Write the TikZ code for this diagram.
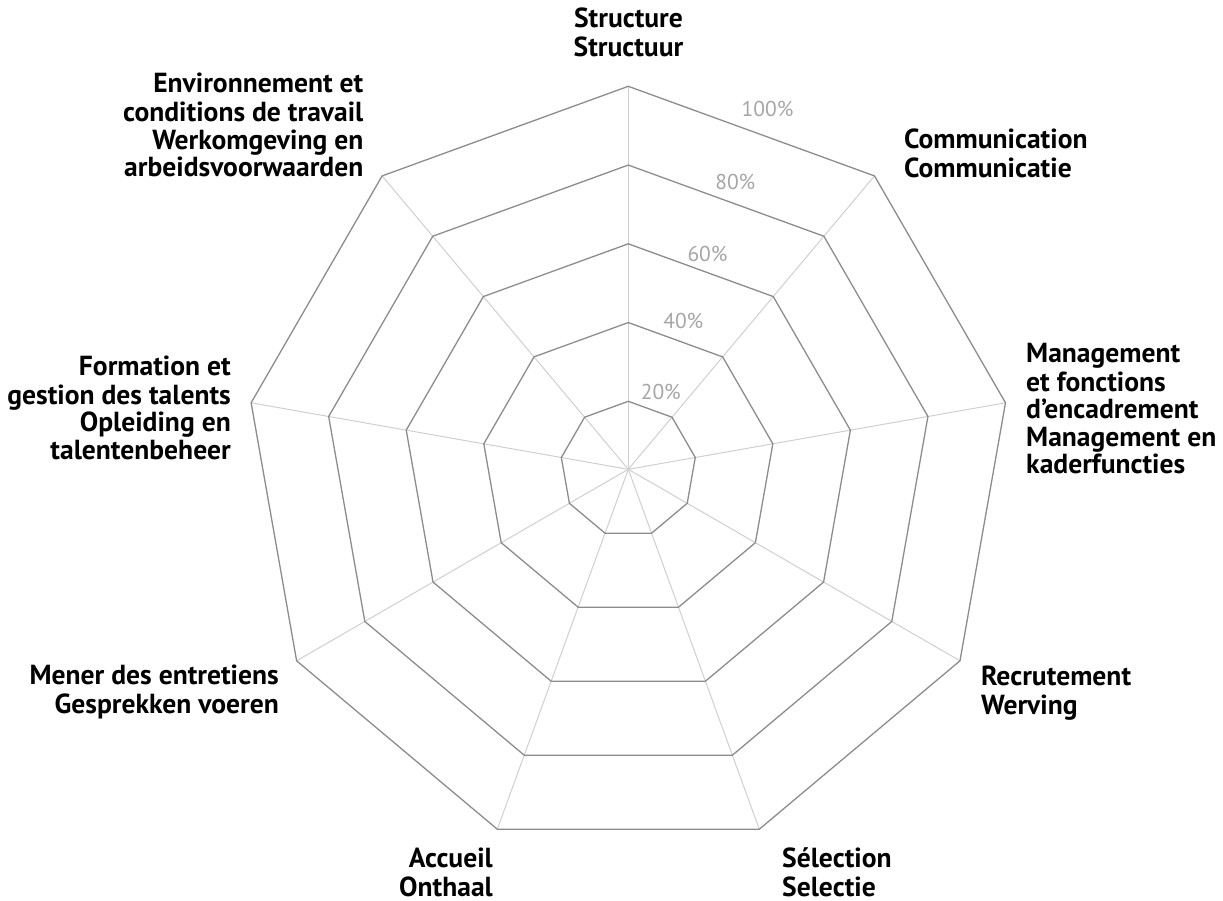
\documentclass[tikz,border=0pt]{standalone}
\usepackage{fontspec}
\setmainfont{PT Sans}
\definecolor{ringgray}{HTML}{8C8C8C}
\definecolor{spokegray}{HTML}{CFCFCF}
\definecolor{pctgray}{HTML}{A6A6A6}
\newlength\lwA \newlength\lwB \newlength\lwC \newlength\lwD \newlength\lwE
\begin{document}
\settowidth\lwA{\fontsize{10}{12}\selectfont\bfseries Communication}%
\settowidth\lwB{\fontsize{10}{12}\selectfont\bfseries Recrutement}%
\settowidth\lwC{\fontsize{10}{12}\selectfont\bfseries Mener des entretiens}%
\settowidth\lwD{\fontsize{10}{12}\selectfont\bfseries gestion des talents}%
\settowidth\lwE{\fontsize{10}{12}\selectfont 100\%}%
\pgfmathparse{10*806/(\lwA+\lwB+\lwC+\lwD)}\xdef\labfs{\pgfmathresult}%
\pgfmathparse{10*51.7/\lwE}\xdef\pctfs{\pgfmathresult}%
\begin{tikzpicture}[x=1pt,y=-1pt,
  lab/.style={inner sep=0pt, font=\bfseries\fontsize{\labfs}{27.6}\selectfont},
  labL/.style={lab, anchor=north west, align=left},
  labR/.style={lab, anchor=north east, align=right},
  pct/.style={inner sep=0pt, anchor=base, text=pctgray, font=\fontsize{\pctfs}{\pctfs}\selectfont},
  spoke/.style={draw=spokegray, line width=1pt},
  ring/.style={draw=ringgray, line width=1.3pt, line join=miter}]
\useasboundingbox (0,0) rectangle (1223,900);
\coordinate (c) at (628.3,469.3);
% spokes
\foreach \i in {0,...,8} {
  \pgfmathsetmacro\ang{90-40*\i}
  \coordinate (v\i) at ({628.3+383*cos(\ang)},{469.3-383*sin(\ang)});
  \draw[spoke] (c) -- (v\i);
}
% rings
\foreach \k in {0,...,4} {
  \pgfmathsetmacro\r{68+78.75*\k}
  \draw[ring] ({628.3},{469.3-\r})
    \foreach \i in {1,...,8} { -- ({628.3+\r*cos(90-40*\i)},{469.3-\r*sin(90-40*\i)}) } -- cycle;
}
% percent labels
\node[pct] (p100) at (767.5,116.7) {100\%};
\node[pct] (p80) at (735.3,189.3) {80\%};
\node[pct] (p60) at (707.5,261) {60\%};
\node[pct] (p40) at (683.3,328.3) {40\%};
\node[pct] (p20) at (660.8,399.3) {20\%};
% axis labels
\node[lab, anchor=north, align=center] (lStr) at (628.5,8.0) {\strut Structure\\Structuur};
\node[labL] (lCom) at (904,128.7) {\strut Communication\\Communicatie};
\node[labL] (lMan) at (1026,342.7) {\strut Management\\et fonctions\\d’encadrement\\Management en\\kaderfuncties};
\node[labL] (lRec) at (981,665.7) {\strut Recrutement\\Werving};
\node[labL] (lSel) at (782,847.7) {\strut Sélection\\Selectie};
\node[labR] (lAcc) at (493,847.7) {\strut Accueil\\Onthaal};
\node[labR] (lMen) at (279,664.7) {\strut Mener des entretiens\\Gesprekken voeren};
\node[labR] (lFor) at (231,355.7) {\strut Formation et\\gestion des talents\\Opleiding en\\talentenbeheer};
\node[labR] (lEnv) at (363.5,73.0) {\strut Environnement et\\conditions de travail\\Werkomgeving en\\arbeidsvoorwaarden};
\end{tikzpicture}
\end{document}
